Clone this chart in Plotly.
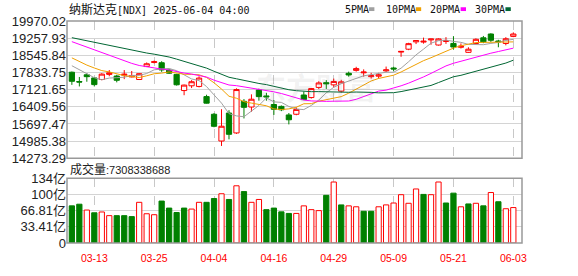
import plotly.graph_objects as go

# ---------------- data ----------------
dates = ["03-10","03-11","03-12","03-13","03-14","03-17","03-18","03-19","03-20","03-21",
         "03-24","03-25","03-26","03-27","03-28","03-31","04-01","04-02","04-03","04-04",
         "04-07","04-08","04-09","04-10","04-11","04-14","04-15","04-16","04-17","04-21",
         "04-22","04-23","04-24","04-25","04-28","04-29","04-30","05-01","05-02","05-05",
         "05-06","05-07","05-08","05-09","05-12","05-13","05-14","05-15","05-16","05-19",
         "05-20","05-21","05-22","05-23","05-27","05-28","05-29","05-30","06-02","06-03"]

open_ = [17844,17460,17738,17608,17542,17754,17687,17720,17650,17542,
         18080,18250,18238,17934,17754,17084,17281,17254,16833,16100,
         14990,16151,15325,16636,16400,17108,16860,16505,16427,16072,
         16100,16899,16793,17214,17411,17320,17060,17800,17920,17820,
         17660,17680,17900,18020,18680,18800,19104,19095,19185,18973,
         19120,19040,18880,18670,19037,19273,19430,19140,19037,19330]
high = [17872,17647,17805,17634,17805,17934,17738,17934,17895,17800,
        18250,18329,18300,17962,17780,17330,17517,17675,16911,16151,
        16309,16269,17175,16730,16927,17163,16990,16690,16466,16152,
        16387,17040,17190,17470,17516,17580,17530,17870,18070,17962,
        17820,17820,18080,18080,18720,19065,19180,19280,19230,19250,
        19300,19340,19040,18880,19250,19350,19460,19190,19300,19498]
low = [17320,17254,17450,17254,17510,17675,17424,17557,17630,17520,
       18060,18210,17860,17775,17290,16890,17187,17214,16545,15560,
       14785,15060,15285,15927,16203,16663,16663,16072,16230,15679,
       16060,16690,16750,17150,17150,17210,17000,17660,17870,17660,
       17580,17580,17850,17880,18485,18760,19013,19030,18985,18950,
       19020,18780,18830,18650,19000,19050,19100,18880,18960,19300]
close = [17468,17436,17660,17330,17765,17820,17510,17760,17700,17784,
         18195,18280,17940,17804,17323,17310,17450,17601,16560,15600,
         15603,15268,17125,16387,16724,16831,16823,16307,16286,15871,
         16300,16708,17166,17400,17366,17461,17446,17730,17995,17850,
         17700,17738,17940,17980,18708,19030,19160,19130,19222,19225,
         19160,18890,18926,18800,19210,19104,19170,19110,19233,19430]

ma5 = [18114,17944,17766,17618,17532,17602,17617,17637,17711,17715,
       17790,17944,17980,18001,17908,17731,17565,17498,17249,16904,
       16563,16126,16031,15997,16221,16467,16778,16614,16594,16424,
       16317,16294,16466,16689,16988,17220,17368,17481,17600,17696,
       17744,17803,17845,17842,18013,18279,18564,18802,19050,19153,
       19179,19125,19085,19000,18997,18986,19042,19079,19165,19209]
ma10 = [18441,18282,18141,18020,17912,17858,17781,17702,17665,17624,
        17696,17781,17809,17856,17812,17761,17755,17739,17625,17406,
        17147,16846,16765,16623,16563,16515,16452,16323,16296,16323,
        16392,16536,16540,16642,16706,16769,16831,16974,17145,17342,
        17482,17586,17663,17721,17855,18012,18184,18324,18446,18583,
        18729,18845,18944,19025,19075,19083,19084,19082,19083,19103]
ma20 = [19113,18999,18900,18785,18676,18565,18439,18324,18211,18124,
        18069,18032,17975,17938,17862,17810,17768,17721,17645,17515,
        17422,17314,17287,17240,17188,17138,17104,17031,16961,16865,
        16770,16691,16653,16633,16635,16642,16642,16649,16721,16833,
        16937,17061,17102,17182,17281,17391,17508,17649,17796,17963,
        18106,18216,18304,18373,18465,18548,18634,18703,18765,18843]
ma30 = [19278,19214,19145,19069,19005,18944,18882,18819,18752,18685,
        18641,18593,18536,18475,18388,18297,18211,18129,18015,17884,
        17761,17636,17572,17500,17429,17378,17329,17255,17195,17118,
        17078,17054,17038,17040,17027,17015,17013,17012,17022,17024,
        17007,16989,16989,16995,17041,17099,17156,17207,17296,17416,
        17534,17656,17716,17796,17879,17955,18033,18127,18225,18343]

volume_yi = [76.6,80.0,68.0,62.3,64.0,56.4,56.4,56.4,54.4,83.9,
             60.3,58.3,86.5,72.0,62.9,72.0,70.0,83.9,83.9,91.7,
             101.6,89.8,118.0,106.0,83.9,89.8,68.8,72.0,64.2,61.0,
             61.0,76.6,68.8,66.8,98.3,125.8,78.6,76.6,74.7,65.4,
             65.4,74.7,78.6,82.5,99.6,81.9,111.4,100.2,99.6,125.8,
             82.5,102.8,74.7,80.6,81.9,76.6,104.1,85.1,70.7,73.08]
volume_up = [0,0,1,0,1,1,0,0,0,1, 1,1,0,0,0,0,1,1,0,0,
             1,0,1,0,1,1,0,0,0,0, 1,1,1,1,0,1,0,1,1,0,
             0,1,1,1,1,1,1,0,1,1, 0,0,1,0,1,0,1,0,1,1]

price_ticks = [14273.29,14985.38,15697.47,16409.56,17121.65,17833.75,18545.84,19257.93,19970.02]
price_tick_text = ["14273.29","14985.38","15697.47","16409.56","17121.65","17833.75","18545.84","19257.93","19970.02"]
vol_ticks = [0,33.41,66.81,100.22,133.64]
vol_tick_text = ["0","33.41亿","66.81亿","100亿","134亿"]
date_ticks = ["03-13","03-25","04-04","04-16","04-29","05-09","05-21","06-03"]

title_text = "纳斯达克[NDX] 2025-06-04 04:00"
volume_text = "7308338688"
ma_names = ["5PMA","10PMA","20PMA","30PMA"]

# ---------------- style ----------------
RED = "#ff0000"
GREEN = "#008000"
MA_COLORS = ["#a0a0a0", "#f0a000", "#ff00ff", "#006633"]
W, H = 578, 276
L, R, T, B = 55, 56, 21, 21
PW, PH = W - L - R, H - T - B


def px(xp):
    return (xp - L) / PW


def py(yp):
    return (H - B - yp) / PH


fig = go.Figure()

fig.add_trace(go.Candlestick(
    x=dates, open=open_, high=high, low=low, close=close,
    increasing=dict(line=dict(color=RED, width=1), fillcolor="#ffffff"),
    decreasing=dict(line=dict(color=GREEN, width=1), fillcolor=GREEN),
    whiskerwidth=0, showlegend=False, hoverinfo="skip",
    xaxis="x", yaxis="y"))

for vals, col in zip([ma5, ma10, ma20, ma30], MA_COLORS):
    fig.add_trace(go.Scatter(x=dates, y=vals, mode="lines",
                             line=dict(color=col, width=1),
                             showlegend=False, hoverinfo="skip",
                             xaxis="x", yaxis="y"))

fig.add_trace(go.Bar(
    x=dates, y=volume_yi, width=0.7,
    marker=dict(color=["#ffffff" if u else GREEN for u in volume_up],
                line=dict(color=[RED if u else GREEN for u in volume_up], width=1)),
    showlegend=False, hoverinfo="skip", xaxis="x", yaxis="y2"))

main_bottom = py(165.7)
vol_top = py(186.7)

fig.update_layout(
    width=W, height=H,
    margin=dict(l=L, r=R, t=T, b=B, pad=0),
    paper_bgcolor="white", plot_bgcolor="white",
    boxgap=0.3, boxgroupgap=0,
    font=dict(family="Liberation Sans, Noto Sans CJK SC", size=13, color="#222"),
    xaxis=dict(type="category", anchor="y2", domain=[0, 1],
               range=[-0.65, 60.16], rangeslider=dict(visible=False),
               tickmode="array", tickvals=date_ticks, ticktext=date_ticks,
               tickfont=dict(family="Liberation Sans", size=10.5, color=RED),
               ticklabelstandoff=7,
               showgrid=True, gridcolor="#c8c8c8", griddash="dash", gridwidth=1,
               ticks="", showline=False, zeroline=False, fixedrange=True),
    yaxis=dict(domain=[main_bottom, 1], range=[price_ticks[0], price_ticks[-1]],
               tickmode="array", tickvals=price_ticks, ticktext=price_tick_text,
               showgrid=True, gridcolor="#d4d4d4", gridwidth=1,
               ticks="", showline=False, zeroline=False, fixedrange=True,
               tickfont=dict(size=13, color="#222")),
    yaxis2=dict(domain=[0, vol_top], range=[vol_ticks[0], vol_ticks[-1]],
                anchor="x",
                tickmode="array", tickvals=vol_ticks, ticktext=vol_tick_text,
                showgrid=True, gridcolor="#d4d4d4", gridwidth=1,
                ticks="", showline=False, zeroline=False, fixedrange=True,
                tickfont=dict(size=13, color="#222")),
)

# panel borders
for yref in ["y domain", "y2 domain"]:
    fig.add_shape(type="rect", xref="paper", yref=yref, x0=0, x1=1, y0=0, y1=1,
                  line=dict(color="#999999", width=1.5), fillcolor="rgba(0,0,0,0)", layer="above")

mono = "DejaVu Sans Mono, Noto Sans CJK SC"

# title
fig.add_annotation(xref="paper", yref="paper", x=px(55), y=py(9), xanchor="left", yanchor="middle",
                   text='<span style="font-size:12px">' + title_text[:4] + '</span>' + title_text[4:],
                   showarrow=False, font=dict(family=mono, size=10, color="#111"))

# MA legend
legend_x = [338, 380, 426, 472]
square_x = [365, 413, 459, 505]
for name, col, lx, sx in zip(ma_names, MA_COLORS, legend_x, square_x):
    fig.add_annotation(xref="paper", yref="paper", x=px(lx), y=py(9), xanchor="left", yanchor="middle",
                       text=name, showarrow=False, font=dict(family=mono, size=10, color="#111"))
    fig.add_shape(type="rect", xref="paper", yref="paper", x0=px(sx), x1=px(sx + 5.5),
                  y0=py(10.5), y1=py(6.5), line=dict(width=0), fillcolor=col)

# volume caption
fig.add_annotation(xref="paper", yref="paper", x=px(56), y=py(177), xanchor="left", yanchor="middle",
                   text='<span style="font-size:12px">成交量</span>:' + volume_text,
                   showarrow=False, font=dict(family="Liberation Sans, Noto Sans CJK SC", size=11, color="#222"))

# watermark
fig.add_annotation(xref="paper", yref="paper", x=px(311), y=py(89), xanchor="center", yanchor="middle",
                   text="<b>东方财富</b>", showarrow=False,
                   font=dict(family="Noto Sans CJK SC", size=30, color="rgba(120,120,120,0.10)"))

fig.write_html("out.html")
